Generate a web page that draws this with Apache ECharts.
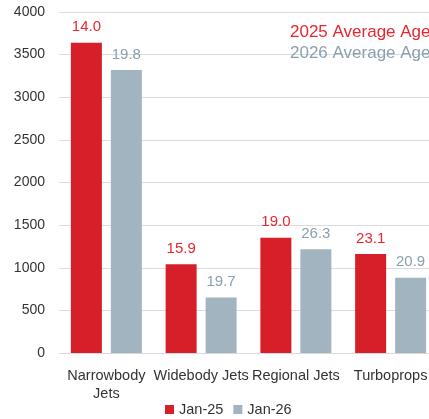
<!DOCTYPE html>
<html>
<head>
<meta charset="utf-8">
<script src="https://cdn.jsdelivr.net/npm/echarts@6/dist/echarts.min.js"></script>
<style>
	html,body{margin:0;padding:0;background:#fff;}
	#main{width:429px;height:419px;}
</style>
</head>
<body>
<div id="main"></div>
<script>
	// fleet counts by aircraft type
	var categories = ['Narrowbody\nJets', 'Widebody Jets', 'Regional Jets', 'Turboprops'];
	var jan25 = [3640, 1040, 1352, 1161];
	var jan26 = [3320, 650, 1216, 883];
	// average age shown above each bar
	var age25 = ['14.0', '15.9', '19.0', '23.1'];
	var age26 = ['19.8', '19.7', '26.3', '20.9'];

	var red = '#d71f29';
	var grey = '#a3b4c1';
	var font = '"Liberation Sans", Arial, sans-serif';

	var chart = echarts.init(document.getElementById('main'));

	chart.setOption({
		animation: false,
		textStyle: {fontFamily: font},
		title: [
			{
				text: '2025 Average Age',
				left: 285, top: 19,
				textStyle: {color: '#e8262f', fontSize: 17, fontWeight: 'normal', fontFamily: font}
			},
			{
				text: '2026 Average Age',
				left: 285, top: 40,
				textStyle: {color: '#8aa0ae', fontSize: 17, fontWeight: 'normal', fontFamily: font}
			}
		],
		legend: {
			top: 397,
			left: 160,
			itemWidth: 9,
			itemHeight: 9,
			itemGap: 10,
			icon: 'rect',
			textStyle: {fontSize: 14.5, color: '#333', fontFamily: font},
			data: ['Jan-25', 'Jan-26']
		},
		grid: {left: 59, right: -9, top: 12, bottom: 66, outerBoundsMode: 'none'},
		xAxis: {
			type: 'category',
			data: categories,
			axisLine: {lineStyle: {color: '#d9d9d9'}},
			axisTick: {show: false},
			axisLabel: {fontSize: 14.5, color: '#333', margin: 14, lineHeight: 18, interval: 0}
		},
		yAxis: {
			type: 'value',
			min: 0, max: 4000, interval: 500,
			axisLine: {show: false},
			axisTick: {show: false},
			splitLine: {lineStyle: {color: '#dcdcdc'}},
			axisLabel: {fontSize: 14, color: '#333', margin: 14, formatter: function(v){ return String(v); }}
		},
		series: [
			{
				name: 'Jan-25',
				type: 'bar',
				data: jan25,
				barWidth: 31,
				barGap: '29%',
				itemStyle: {color: red},
				label: {
					show: true, position: 'top', distance: 8,
					fontSize: 15, color: '#e8262f',
					formatter: function(p){ return age25[p.dataIndex]; }
				}
			},
			{
				name: 'Jan-26',
				type: 'bar',
				data: jan26,
				barWidth: 31,
				itemStyle: {color: grey},
				label: {
					show: true, position: 'top', distance: 8,
					fontSize: 15, color: '#8aa0ae',
					formatter: function(p){ return age26[p.dataIndex]; }
				}
			}
		]
	});
</script>
</body>
</html>
